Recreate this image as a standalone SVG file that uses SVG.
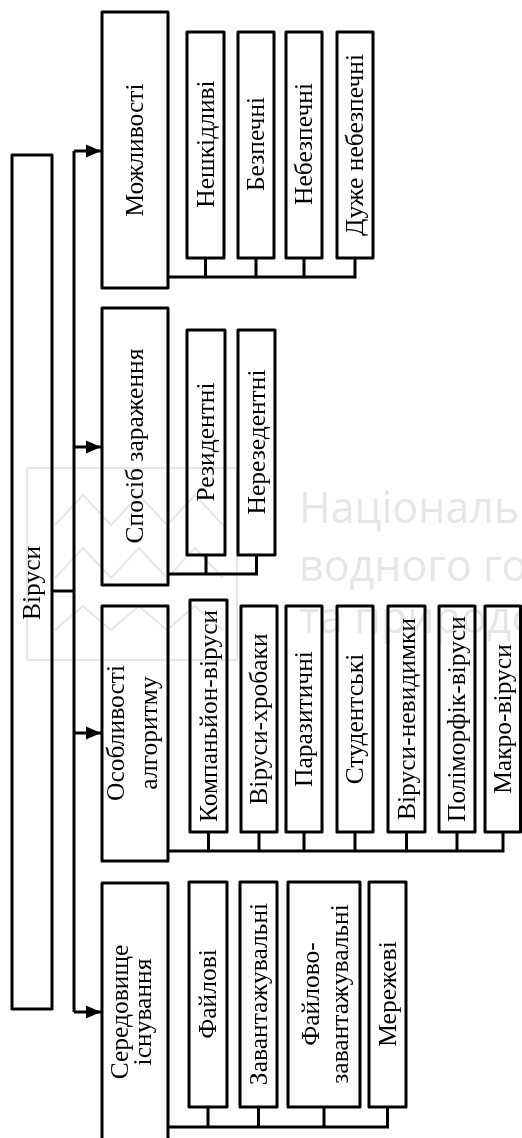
<svg xmlns="http://www.w3.org/2000/svg" width="522" height="1138" viewBox="0 0 522 1138">
<style>
.box{fill:#fff;stroke:#000;stroke-width:3;stroke-linejoin:round}
.ln{fill:none;stroke:#000;stroke-width:3}
.t{font-family:"Liberation Serif","Times New Roman",serif;font-size:25.5px;fill:#000;text-anchor:middle}
.wm{font-family:"Open Sans",sans-serif;font-size:43px;fill:#e6e6e6}
.wml{fill:none;stroke:#e6e6e6;stroke-width:2}
</style>
<defs>
<marker id="arr" markerUnits="userSpaceOnUse" markerWidth="16" markerHeight="14" viewBox="0 0 16 14" refX="15" refY="7" orient="auto">
<path d="M0,0.5 L15,7 L0,13.5 z" fill="#000"/>
</marker>
</defs>
<rect width="522" height="1138" fill="#fff"/>

<g id="connectors">
<path class="ln" d="M74,151 V1012"/>
<path class="ln" d="M52,591 H74"/>
<path class="ln" d="M74,151 H101" marker-end="url(#arr)"/>
<path class="ln" d="M74,447 H101" marker-end="url(#arr)"/>
<path class="ln" d="M74,733 H101" marker-end="url(#arr)"/>
<path class="ln" d="M74,1012 H101" marker-end="url(#arr)"/>
<path class="ln" d="M168,277 H355 V258 M205.5,258 V277 M256,258 V277 M304,258 V277"/>
<path class="ln" d="M168,574 H256.5 V555 M206,555 V574"/>
<path class="ln" d="M168,851 H503 V832 M208.5,832 V851 M259,832 V851 M304,832 V851 M355,832 V851 M406.5,832 V851 M457,832 V851"/>
<path class="ln" d="M168,1127 H387.5 V1107 M208,1107 V1127 M258.5,1107 V1127 M324,1107 V1127"/>
</g>

<g id="n-virusy"><rect class="box" x="12" y="155" width="40" height="854"/><text class="t" transform="translate(32,583) rotate(-90)" y="8">Віруси</text></g>

<g id="n-mozhlyvosti"><rect class="box" x="102" y="12" width="66" height="276"/><text class="t" transform="translate(135,150) rotate(-90)" y="8">Можливості</text></g>
<g id="n-sposib"><rect class="box" x="102" y="308" width="66" height="277"/><text class="t" transform="translate(135,446) rotate(-90)" y="8">Спосіб зараження</text></g>
<g id="n-osoblyvosti"><rect class="box" x="102" y="606" width="66" height="255"/><text class="t" transform="translate(135,733) rotate(-90)"><tspan x="0" y="-11">Особливості</tspan><tspan x="0" y="22">алгоритму</tspan></text></g>
<g id="n-seredovyshche"><rect class="box" x="102" y="883" width="66" height="260"/><text class="t" transform="translate(135,1012) rotate(-90)"><tspan x="0" y="-7">Середовище</tspan><tspan x="0" y="16">існування</tspan></text></g>

<g id="n-neshkidlyvi"><rect class="box" x="187" y="32" width="37" height="226"/><text class="t" transform="translate(205.5,144) rotate(-90)" y="8">Нешкідливі</text></g>
<g id="n-bezpechni"><rect class="box" x="238" y="32" width="36" height="226"/><text class="t" transform="translate(256,144) rotate(-90)" y="8">Безпечні</text></g>
<g id="n-nebezpechni"><rect class="box" x="286" y="32" width="36" height="226"/><text class="t" transform="translate(304,144) rotate(-90)" y="8">Небезпечні</text></g>
<g id="n-duzhe"><rect class="box" x="337" y="32" width="36" height="226"/><text class="t" transform="translate(355,145) rotate(-90)" y="8">Дуже небезпечні</text></g>

<g id="n-rezydentni"><rect class="box" x="187" y="330" width="38" height="225"/><text class="t" transform="translate(206,442) rotate(-90)" y="8">Резидентні</text></g>
<g id="n-nerezydentni"><rect class="box" x="238" y="330" width="37" height="225"/><text class="t" transform="translate(256.5,442) rotate(-90)" y="8">Нерезедентні</text></g>

<g id="n-kompanion"><rect class="box" x="190" y="600" width="37" height="232"/><text class="t" transform="translate(208.5,716) rotate(-90)" y="8">Компаньйон-віруси</text></g>
<g id="n-khrobaky"><rect class="box" x="241" y="606" width="36" height="226"/><text class="t" transform="translate(259,719) rotate(-90)" y="8">Віруси-хробаки</text></g>
<g id="n-paratyzychni"><rect class="box" x="286" y="606" width="36" height="226"/><text class="t" transform="translate(304,719) rotate(-90)" y="8">Паразитичні</text></g>
<g id="n-studentski"><rect class="box" x="337" y="606" width="36" height="226"/><text class="t" transform="translate(355,719) rotate(-90)" y="8">Студентські</text></g>
<g id="n-nevydymky"><rect class="box" x="388" y="606" width="37" height="226"/><text class="t" transform="translate(406.5,719) rotate(-90)" y="8">Віруси-невидимки</text></g>
<g id="n-polimorfik"><rect class="box" x="439" y="606" width="36" height="226"/><text class="t" transform="translate(457,719) rotate(-90)" y="8">Поліморфік-віруси</text></g>
<g id="n-makro"><rect class="box" x="485" y="606" width="35.5" height="226"/><text class="t" transform="translate(503,719) rotate(-90)" y="8">Макро-віруси</text></g>

<g id="n-failovi"><rect class="box" x="189" y="882" width="38" height="225"/><text class="t" transform="translate(208,994) rotate(-90)" y="8">Файлові</text></g>
<g id="n-zavantazh"><rect class="box" x="240" y="882" width="37" height="225"/><text class="t" transform="translate(258.5,994) rotate(-90)" y="8">Завантажувальні</text></g>
<g id="n-failovo-zav"><rect class="box" x="288" y="882" width="72" height="225"/><text class="t" transform="translate(324,994) rotate(-90)"><tspan x="0" y="-5">Файлово-</tspan><tspan x="0" y="24">завантажувальні</tspan></text></g>
<g id="n-merezhevi"><rect class="box" x="369" y="882" width="37" height="225"/><text class="t" transform="translate(387.5,994) rotate(-90)" y="8">Мережеві</text></g>

<g id="watermark" style="mix-blend-mode:multiply">
<rect class="wml" x="27" y="468" width="210" height="192"/>
<polyline class="wml" points="55,525 83,495 111,525 139,495 167,525 195,495 223,525"/>
<polyline class="wml" points="55,578 83,548 111,578 139,548 167,578 195,548 223,578"/>
<polyline class="wml" points="55,630 83,606 111,630 139,606 167,630 195,606 223,630"/>
<text class="wm" x="299" y="523">Національн</text>
<text class="wm" x="299" y="581">водного го</text>
<text class="wm" x="299" y="633">та природо</text>
</g>
</svg>
